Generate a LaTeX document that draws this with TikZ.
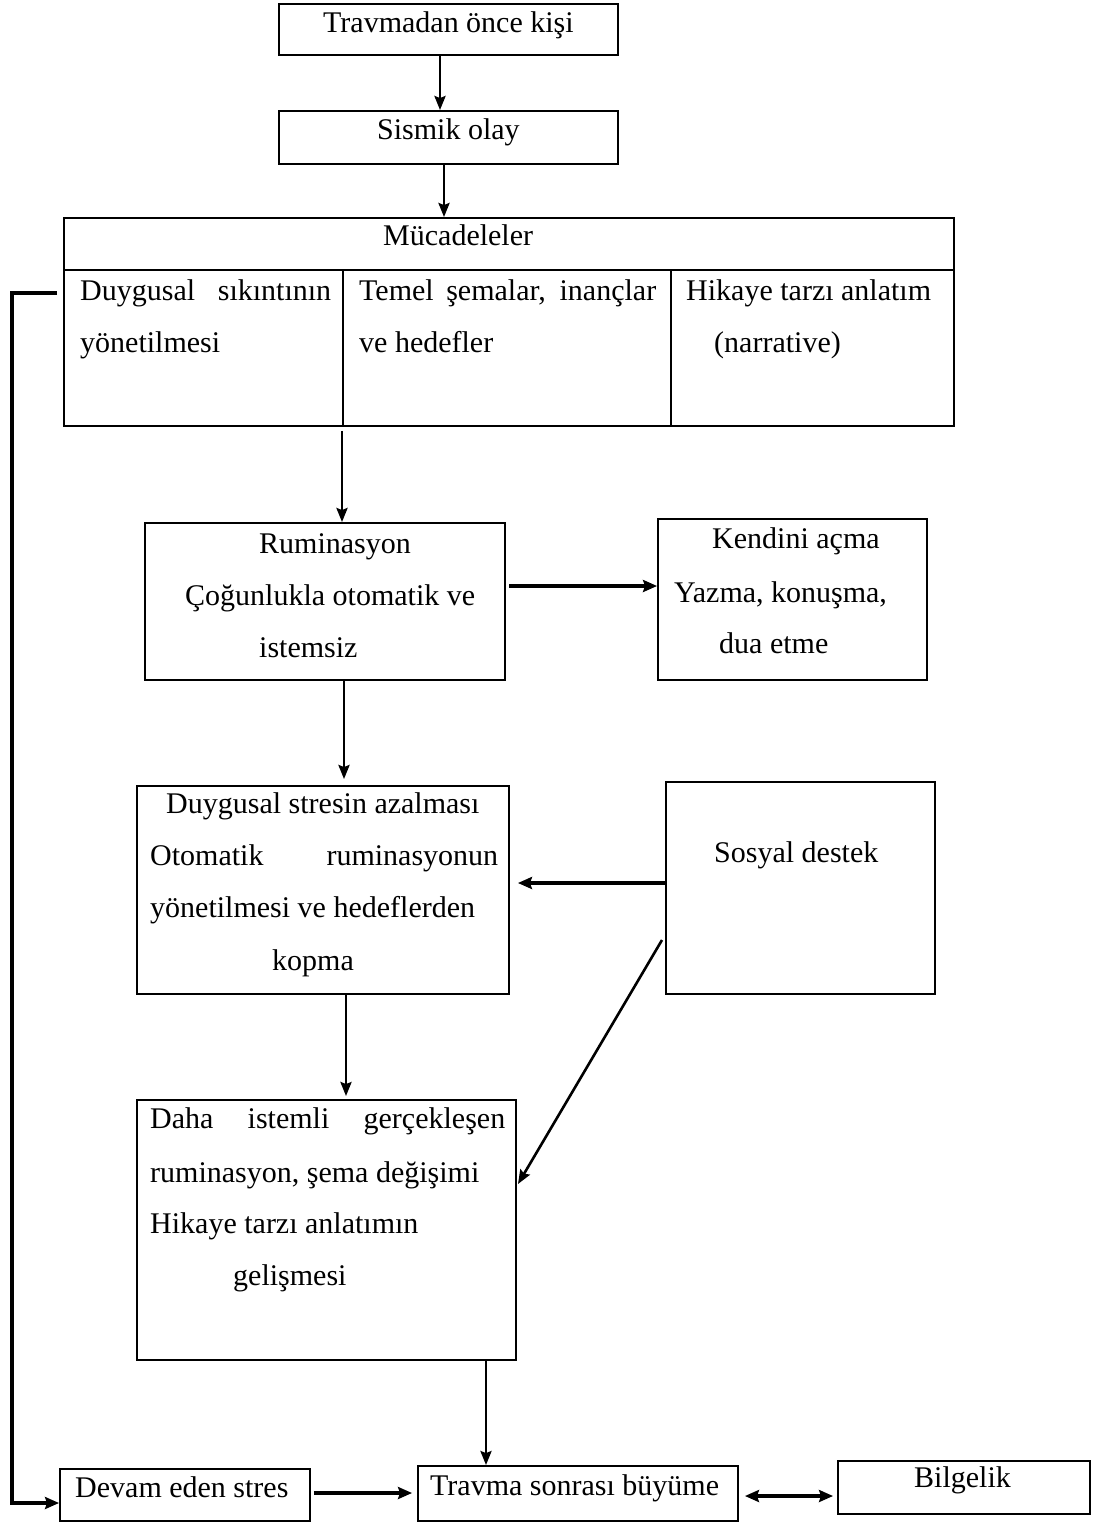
\documentclass[tikz,border=0pt]{standalone}
\usepackage{fontspec}
\setmainfont{Liberation Serif}
\usetikzlibrary{arrows.meta,fit,calc}
\begin{document}
\begin{tikzpicture}[x=1pt,y=-1pt,
 box/.style={draw, line width=1.9pt, inner sep=0pt},
 arr/.style={line width=2.6pt, -{Stealth[length=14pt,width=11pt,inset=2pt]}},
 tarr/.style={line width=3.4pt, -{Stealth[length=14pt,width=12pt,inset=2pt]}},
 darr/.style={line width=3.4pt, {Stealth[length=14pt,width=12pt,inset=2pt]}-{Stealth[length=14pt,width=12pt,inset=2pt]}},
 txt/.style={anchor=base west, inner sep=0pt, font=\fontsize{30}{36}\selectfont}]
\useasboundingbox (0,0) rectangle (1092,1522);

% boxes
\node[box, fit={(279,4) (618,55)}] (b1) {};
\node[box, fit={(279,111) (618,164)}] (b2) {};
\node[box, fit={(64,218) (954,270)}] (mh) {};
\node[box, fit={(64,270) (343,426)}] (c1) {};
\node[box, fit={(343,270) (671,426)}] (c2) {};
\node[box, fit={(671,270) (954,426)}] (c3) {};
\node[box, fit={(145,523) (505,680)}] (rum) {};
\node[box, fit={(658,519) (927,680)}] (ken) {};
\node[box, fit={(137,786) (509,994)}] (duy) {};
\node[box, fit={(666,782) (935,994)}] (sos) {};
\node[box, fit={(137,1100) (516,1360)}] (dah) {};
\node[box, fit={(60,1469) (310,1521)}] (dev) {};
\node[box, fit={(418,1466) (738,1521)}] (tsb) {};
\node[box, fit={(838,1461) (1090,1514)}] (bil) {};

% texts
\node[txt] (t1) at (323,33) {Travmadan önce kişi};
\node[txt] (t2) at (377,140) {Sismik olay};
\node[txt] (t3) at (383,246) {Mücadeleler};
\node[txt] (t4) at (80,300) {\makebox[251pt][s]{Duygusal sıkıntının}};
\node[txt] (t5) at (80,352) {yönetilmesi};
\node[txt] (t6) at (359,300) {\makebox[297pt][s]{Temel şemalar, inançlar}};
\node[txt] (t7) at (359,352) {ve hedefler};
\node[txt] (t8) at (686,300) {Hikaye tarzı anlatım};
\node[txt] (t9) at (714,352) {(narrative)};
\node[txt] (t10) at (259,553) {Ruminasyon};
\node[txt] (t11) at (185,605) {Çoğunlukla otomatik ve};
\node[txt] (t12) at (259,657) {istemsiz};
\node[txt] (t13) at (712,548) {Kendini açma};
\node[txt] (t14) at (674,602) {Yazma, konuşma,};
\node[txt] (t15) at (719,653) {dua etme};
\node[txt] (t16) at (166,813) {Duygusal stresin azalması};
\node[txt] (t17) at (150,865) {\makebox[348pt][s]{Otomatik ruminasyonun}};
\node[txt] (t18) at (150,917) {yönetilmesi ve hedeflerden};
\node[txt] (t19) at (272,970) {kopma};
\node[txt] (t20) at (714,862) {Sosyal destek};
\node[txt] (t21) at (150,1128) {\makebox[355pt][s]{Daha istemli gerçekleşen}};
\node[txt] (t22) at (150,1182) {ruminasyon, şema değişimi};
\node[txt] (t23) at (150,1233) {Hikaye tarzı anlatımın};
\node[txt] (t24) at (233,1285) {gelişmesi};
\node[txt] (t25) at (75,1497) {Devam eden stres};
\node[txt] (t26) at (430,1495) {Travma sonrası büyüme};
\node[txt] (t27) at (914,1487) {Bilgelik};

% coordinates for connector ends
\coordinate (fb) at (57,293);
\coordinate (sd) at (662,940);
\coordinate (dd) at (518,1184);

% connectors
\draw[arr] (440,0 |- b1.south) -- (440,0 |- b2.north);
\draw[arr] (444,0 |- b2.south) -- (444,0 |- mh.north);
\draw[arr] ($(342,0 |- c2.south)+(0,4)$) -- (342,0 |- rum.north);
\draw[tarr] (509,586) -- (ken.west |- 0,586);
\draw[arr] (344,0 |- rum.south) -- ($(344,0 |- duy.north)+(0,-6)$);
\draw[tarr] (sos.west |- 0,883) -- ($(duy.east |- 0,883)+(8,0)$);
\draw[arr] (sd) -- (dd);
\draw[arr] (346,0 |- duy.south) -- ($(346,0 |- dah.north)+(0,-3)$);
\draw[arr] (486,0 |- dah.south) -- (486,0 |- tsb.north);
\draw[tarr] (fb) -- (12,293) -- (12,1503) -- (dev.west |- 0,1503);
\draw[tarr] ($(dev.east |- 0,1493)+(3,0)$) -- ($(tsb.west |- 0,1493)+(-5,0)$);
\draw[darr] ($(tsb.east |- 0,1496)+(6,0)$) -- ($(bil.west |- 0,1496)+(-4,0)$);
\end{tikzpicture}
\end{document}
